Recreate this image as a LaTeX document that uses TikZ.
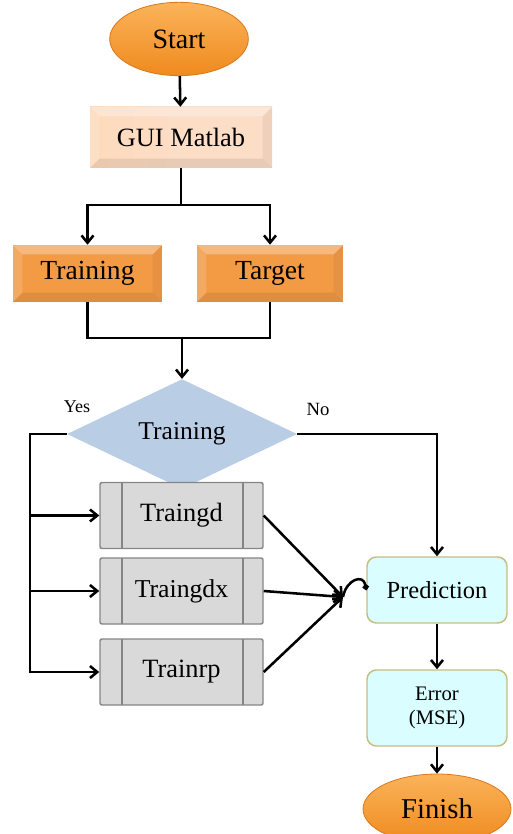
\documentclass[tikz,border=0pt]{standalone}
\usepackage{fontspec}
\setmainfont{Liberation Serif}
\usetikzlibrary{shapes.geometric,arrows.meta}
\definecolor{termtop}{HTML}{FBB35A}
\definecolor{termbot}{HTML}{EF8A1E}
\definecolor{termedge}{HTML}{D9781A}
\definecolor{guifill}{HTML}{FCDDC6}
\definecolor{inpfill}{HTML}{F39A45}
\definecolor{decfill}{HTML}{B9CDE5}
\definecolor{algfill}{HTML}{D9D9D9}
\definecolor{algedge}{HTML}{858585}
\definecolor{resfill}{HTML}{DAFEFF}
\definecolor{resedge}{HTML}{C8BC82}

\begin{document}
\begin{tikzpicture}[
          x=0.75pt,
          y=-0.75pt,
          ln/.style={line width=1.9pt, black},
          arr/.style={ln, -{Straight Barb[length=5.5pt,width=9pt]}},
          term/.style={ellipse, draw=termedge, line width=0.6pt, top color=termtop, bottom color=termbot,
                       minimum width=104pt, minimum height=55pt, inner sep=0pt},
          bev/.style={path picture={
              \fill[white, opacity=0.3] (path picture bounding box.north west) -- (path picture bounding box.north east)
                -- ([shift={(-7pt,-7pt)}]path picture bounding box.north east) -- ([shift={(7pt,-7pt)}]path picture bounding box.north west) -- cycle;
              \fill[white, opacity=0.15] (path picture bounding box.north west) -- (path picture bounding box.south west)
                -- ([shift={(7pt,7pt)}]path picture bounding box.south west) -- ([shift={(7pt,-7pt)}]path picture bounding box.north west) -- cycle;
              \fill[black, opacity=0.08] (path picture bounding box.south west) -- (path picture bounding box.south east)
                -- ([shift={(-7pt,7pt)}]path picture bounding box.south east) -- ([shift={(7pt,7pt)}]path picture bounding box.south west) -- cycle;
              \fill[black, opacity=0.05] (path picture bounding box.north east) -- (path picture bounding box.south east)
                -- ([shift={(-7pt,7pt)}]path picture bounding box.south east) -- ([shift={(-7pt,-7pt)}]path picture bounding box.north east) -- cycle;
            }},
          gui/.style={bev, rectangle, left color=guifill!80!orange!70, right color=guifill, middle color=guifill,
                      minimum width=136.5pt, minimum height=45.75pt, inner sep=0pt},
          inp/.style={bev, rectangle, fill=inpfill, minimum height=42.75pt, inner sep=0pt},
          dec/.style={diamond, fill=decfill, minimum width=172.5pt, minimum height=66pt, inner sep=0pt},
          alg/.style={rectangle, draw=algedge, line width=1.1pt, fill=algfill, rounded corners=1.5pt,
                      minimum width=122.25pt, minimum height=49.5pt, inner sep=0pt,
                      path picture={
                        \draw[algedge, line width=1.1pt] ([xshift=16.5pt]path picture bounding box.north west) -- ([xshift=16.5pt]path picture bounding box.south west);
                        \draw[algedge, line width=1.1pt] ([xshift=-15pt]path picture bounding box.north east) -- ([xshift=-15pt]path picture bounding box.south east);
                      }},
          resbox/.style={rectangle, draw=resedge, line width=1.1pt, fill=resfill, rounded corners=7pt,
                      minimum width=105pt, inner sep=0pt},
        ]
      \useasboundingbox (0,0) rectangle (513,834);
      % terminals and boxes
      \node[term, font=\fontsize{21}{22}\selectfont] (start) at (179,39) {Start};
      \node[gui, font=\fontsize{19.8}{22}\selectfont] (gui) at (181,137.5) {GUI Matlab};
      \node[inp, minimum width=111.75pt, font=\fontsize{20.7}{22}\selectfont] (train) at (87.5,273.5) {Training};
      \node[inp, minimum width=109.5pt, font=\fontsize{20.7}{22}\selectfont] (tgt) at (270,273.5) {Target};
      \node[dec, font=\fontsize{19.2}{22}\selectfont] (dec) at (182,434) {Training};
      \node[font=\fontsize{13.5}{15}\selectfont] (yes) at (77,407) {Yes};
      \node[font=\fontsize{14}{15}\selectfont] (no) at (318,409) {No};
      \node[alg, font=\fontsize{19.8}{22}\selectfont] (gd) at (181.5,515.5) {Traingd};
      \node[alg, font=\fontsize{19.3}{22}\selectfont] (gdx) at (181.5,591) {Traingdx};
      \node[alg, font=\fontsize{19.8}{22}\selectfont] (rp) at (181.5,672) {Trainrp};
      \node[resbox, minimum height=49.5pt, font=\fontsize{18.4}{20}\selectfont] (pred) at (437,590) {Prediction};
      \node[resbox, minimum height=57pt, align=center, font=\fontsize{15.5}{18}\selectfont] (err) at (437,708) {Error\\(MSE)};
      \node[term, minimum width=111pt, minimum height=52.5pt, font=\fontsize{21.5}{22}\selectfont] (fin) at (437,809) {Finish};
      % helper points
      \coordinate (split) at (181,205);
      \coordinate (join) at (182,338);
      \coordinate (ybot) at (30,672);
      \coordinate (mrg) at (343,597);
      % connectors
      \draw[arr] (start) -- (gui);
      \draw[arr] (gui.south) -- (split) -| (train.north);
      \draw[arr] (split) -| (tgt.north);
      \draw[ln] (train.south) |- (join);
      \draw[ln] (tgt.south) |- (join);
      \draw[arr] (join) -- (dec.north);
      \draw[arr] (dec.west) -| (ybot) -- (rp.west);
      \draw[arr] (gd.west -| ybot) -- (gd.west);
      \draw[arr] (gdx.west -| ybot) -- (gdx.west);
      \draw[arr] (dec.east) -| (pred.north);
      \draw[arr] (gd.east) -- (mrg);
      \draw[arr] (gdx.east) -- (mrg);
      \draw[arr] (rp.east) -- (mrg);
      \draw[ln, -{Circle[length=4.5pt]}] (mrg) .. controls +(3,-17) and +(-3,-17) .. (pred.west);
      \draw[arr] (pred) -- (err);
      \draw[arr] (err) -- (fin);
    \end{tikzpicture}
\end{document}
